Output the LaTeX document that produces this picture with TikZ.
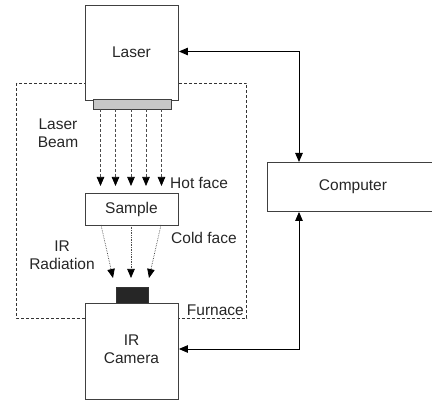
\documentclass[tikz,border=0pt]{standalone}
\usepackage{fontspec}
\setmainfont{Liberation Sans}
\usetikzlibrary{arrows.meta}
\begin{document}
\begin{tikzpicture}[x=1pt,y=-1pt,
  box/.style={draw=black!75,line width=0.9pt,fill=white},
  lbl/.style={font=\fontsize{15.5}{18}\selectfont,text=black!85,inner sep=0pt},
  tip/.style={-{Triangle[width=7.5pt,length=9pt,color=black]}},
  link/.style={draw=black,line width=0.9pt},
  beam/.style={draw=black!70,line width=0.7pt,densely dashed},
  ray/.style={draw=black!70,line width=0.7pt,densely dotted}]
\useasboundingbox (0,0) rectangle (432,401);
% furnace
\draw[black!80,line width=0.8pt,densely dashed] (16.5,83) rectangle (246.5,318);
% laser
\node[box,minimum width=93pt,minimum height=95pt,anchor=north west] (laser) at (85,5) {};
\node[lbl] (lasert) at (131.5,52) {Laser};
\node[draw=black!75,line width=0.8pt,fill=black!22,minimum width=78pt,minimum height=10pt,inner sep=0pt,anchor=north west] (lens) at (93,99) {};
% sample
\node[box,minimum width=93pt,minimum height=32pt,anchor=north west] (sample) at (85,193) {};
\node[lbl] (samplet) at (131.5,209) {Sample};
% camera
\node[draw=black!80,fill=black!85,minimum width=32pt,minimum height=17pt,inner sep=0pt,anchor=north west] (det) at (116,287) {};
\node[box,minimum width=93pt,minimum height=96pt,anchor=north west] (cam) at (85,303) {};
\node[lbl,align=center] (camt) at (131.5,349) {IR\\Camera};
% computer
\node[box,minimum width=166pt,minimum height=49pt,anchor=north west] (comp) at (267,162) {};
\node[lbl] (compt) at (353,187) {Computer};
% labels
\node[lbl,align=center] (lb) at (58,133) {Laser\\Beam};
\node[lbl,align=center] (ir) at (62,255) {IR\\Radiation};
\node[lbl,anchor=west] (hot) at (170,183) {Hot face};
\node[lbl,anchor=west] (cold) at (171,238) {Cold face};
\node[lbl,anchor=south east] (furn) at (244,316) {Furnace};
% beam arrows
\foreach \x in {100.5,115.5,131,146,161.5}{
  \draw[beam,tip] (\x,109) -- (\x,186);
}
% IR rays
\draw[ray,tip] (101,225) -- (113,278);
\draw[ray,tip] (131,225) -- (131,278);
\draw[ray,tip] (161,225) -- (149,278);
% links
\coordinate (c1) at (299,51.5);
\coordinate (c2) at (299,349);
\draw[link,{Triangle[width=7.5pt,length=9pt]}-{Triangle[width=7.5pt,length=9pt]}] (laser.east |- c1) -- (c1) -- (c1 |- comp.north);
\draw[link,{Triangle[width=7.5pt,length=9pt]}-{Triangle[width=7.5pt,length=9pt]}] (cam.east |- c2) -- (c2) -- (c2 |- comp.south);
\end{tikzpicture}
\end{document}
